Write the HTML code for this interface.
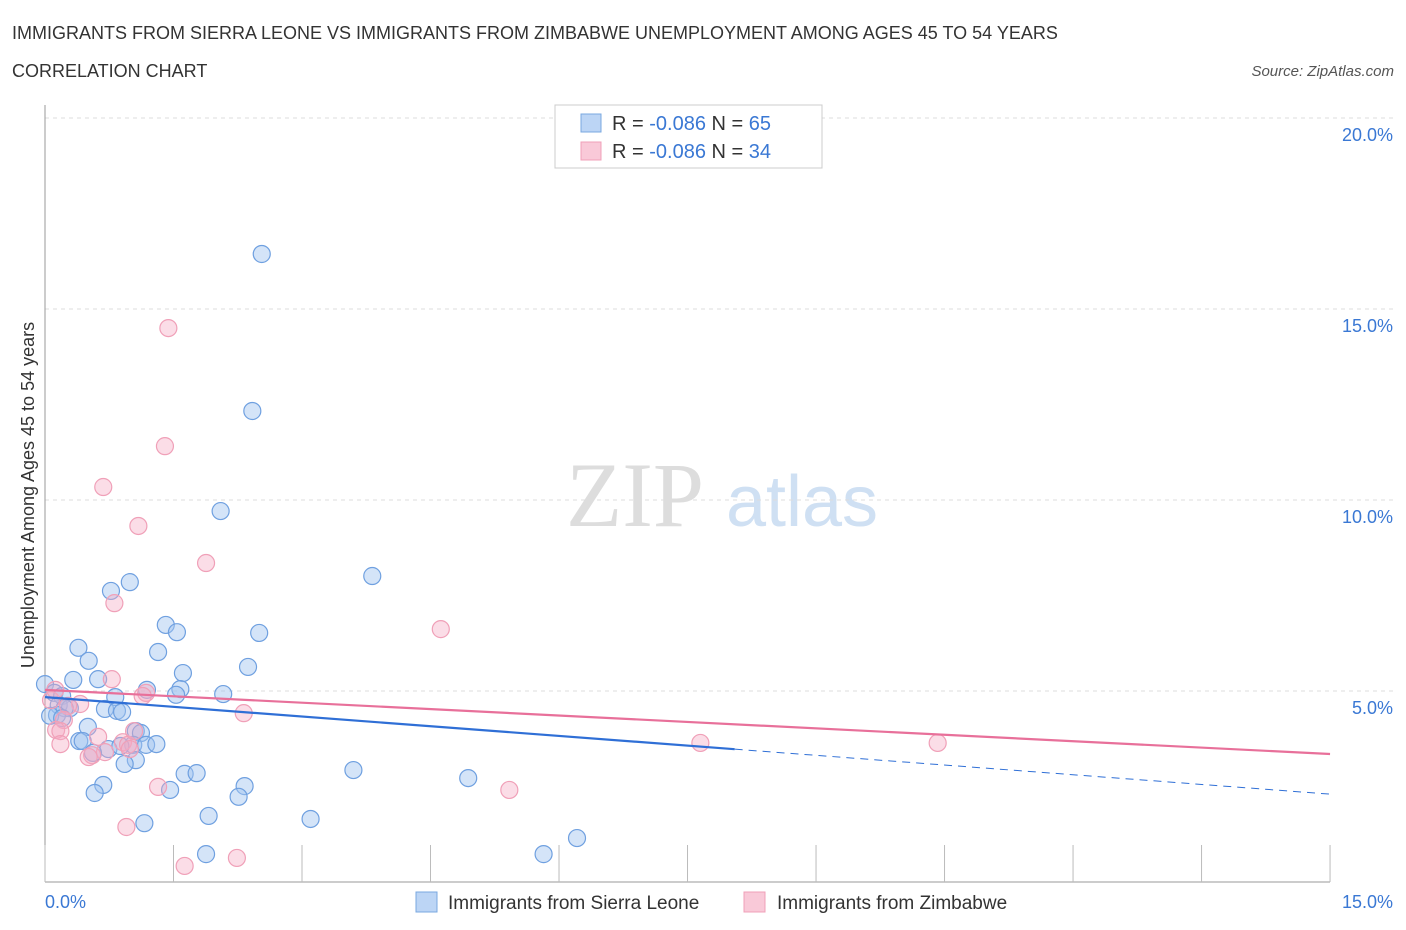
<!DOCTYPE html>
<html><head><meta charset="utf-8"><style>
body{margin:0;background:#fff;font-family:"Liberation Sans",sans-serif;}
svg{display:block}
</style></head><body>
<svg id="chart" width="1406" height="930">
<text x="12" y="39" font-size="18" fill="#333">IMMIGRANTS FROM SIERRA LEONE VS IMMIGRANTS FROM ZIMBABWE UNEMPLOYMENT AMONG AGES 45 TO 54 YEARS</text>
<text x="12" y="77" font-size="18" fill="#333">CORRELATION CHART</text>
<text x="1394" y="76" font-size="15" fill="#555" font-style="italic" text-anchor="end">Source: ZipAtlas.com</text>
<g>
<text x="635" y="526" font-size="92" fill="#ddd" font-family="Liberation Serif,serif" text-anchor="middle">ZIP</text>
<text x="802" y="526" font-size="72" fill="#cfe0f3" text-anchor="middle">atlas</text>
</g>
<g id="grid"></g>
<g id="axes"></g>
<g id="pts"></g>
<g id="trend"></g>
<text transform="translate(34,495) rotate(-90)" font-size="18" fill="#333" text-anchor="middle">Unemployment Among Ages 45 to 54 years</text>
<g>
<rect x="555" y="105" width="267" height="63" fill="#fff" stroke="#ccc"/>
<rect x="581" y="114" width="20" height="18" fill="#bcd5f5" stroke="#7aa8e0"/>
<rect x="581" y="142" width="20" height="18" fill="#f9c9d8" stroke="#f0a0b8"/>
<text x="612" y="130" font-size="20" fill="#333">R = <tspan fill="#3a78d4">-0.086</tspan>   N = <tspan fill="#3a78d4">65</tspan></text>
<text x="612" y="158" font-size="20" fill="#333">R = <tspan fill="#3a78d4">-0.086</tspan>   N = <tspan fill="#3a78d4">34</tspan></text>
</g>
<g>
<rect x="416" y="892" width="21" height="20" fill="#bcd5f5" stroke="#7aa8e0"/>
<text x="448" y="909" font-size="19" fill="#333">Immigrants from Sierra Leone</text>
<rect x="744" y="892" width="21" height="20" fill="#f9c9d8" stroke="#f0a0b8"/>
<text x="777" y="909" font-size="19" fill="#333">Immigrants from Zimbabwe</text>
</g>
</svg>
<script>
const blueX=[2.53,2.42,2.05,3.82,0.99,0.77,1.41,1.54,2.50,0.39,1.32,0.51,2.37,1.61,0.33,0.62,0.00,1.19,1.58,0.82,0.11,0.20,1.53,2.08,0.16,0.29,0.23,0.70,0.84,0.90,0.14,0.06,0.20,0.50,1.06,1.12,0.40,0.44,0.74,1.03,1.18,1.30,0.88,0.56,1.06,0.93,1.63,1.77,3.60,4.94,2.33,0.68,0.58,1.46,2.26,1.91,1.16,3.10,6.21,1.88,5.82];
const blueY=[16.44,12.33,9.71,8.01,7.85,7.62,6.73,6.54,6.52,6.13,6.02,5.79,5.63,5.47,5.29,5.31,5.18,5.03,5.05,4.84,4.95,4.87,4.90,4.92,4.63,4.55,4.55,4.53,4.48,4.45,4.37,4.35,4.29,4.06,3.95,3.90,3.69,3.69,3.48,3.59,3.59,3.61,3.56,3.38,3.19,3.09,2.83,2.85,2.93,2.72,2.51,2.54,2.33,2.41,2.23,1.73,1.54,1.65,1.15,0.73,0.73];
const pinkX=[1.44,1.40,0.68,1.09,1.88,0.81,4.62,0.78,1.18,1.14,0.41,0.27,0.22,2.32,0.13,0.18,0.62,0.91,0.97,0.18,0.99,0.70,0.55,0.51,7.65,10.42,1.32,5.42,0.95,1.63,2.24,0.07,0.12,1.04];
const pinkY=[14.50,11.41,10.34,9.32,8.35,7.30,6.62,5.31,4.95,4.87,4.66,4.61,4.24,4.42,3.98,3.95,3.80,3.66,3.59,3.61,3.48,3.40,3.32,3.27,3.64,3.64,2.49,2.41,1.44,0.42,0.63,4.76,5.03,3.95];
const yTicks=[5,10,15,20];
const yTickLabels=["5.0%","10.0%","15.0%","20.0%"];
const xTicks=[0,1.5,3,4.5,6,7.5,9,10.5,12,13.5,15];
const blueTrend=[4.84,2.30];
const pinkTrend=[5.03,3.35];
const blueSolidEnd=8.05;
const NS="http://www.w3.org/2000/svg";
const X=v=>45+v*85.67, Y=v=>882-v*38.2;
function mk(tag,attrs,parent){const e=document.createElementNS(NS,tag);for(const k in attrs)e.setAttribute(k,attrs[k]);document.getElementById(parent).appendChild(e);return e;}
yTicks.forEach((t,i)=>{
 const g=mk('line',{x1:45,x2:1394,y1:Y(t),y2:Y(t),stroke:'#ddd','stroke-dasharray':'4,4'},'grid');
 
 
 const l=mk('text',{x:1393,y:Y(t)+23,'font-size':18,fill:'#3a78d4','text-anchor':'end'},'grid');
 l.textContent=yTickLabels[i];
 
 
});
const ya=mk('line',{x1:45,x2:45,y1:105,y2:882,stroke:'#999'},'axes');


const xa=mk('line',{x1:45,x2:1330,y1:882,y2:882,stroke:'#999'},'axes');


xTicks.forEach(t=>{
 const tk=mk('line',{x1:X(t),x2:X(t),y1:845,y2:882,stroke:'#bbb'},'axes');
 
 
});
const x0=mk('text',{x:45,y:908,'font-size':18,fill:'#3a78d4'},'axes');x0.textContent='0.0%';


const x1=mk('text',{x:1393,y:908,'font-size':18,fill:'#3a78d4','text-anchor':'end'},'axes');x1.textContent='15.0%';


blueX.forEach((v,i)=>{
 const c=mk('circle',{cx:X(v),cy:Y(blueY[i]),r:8.5,fill:'rgba(160,196,240,0.45)',stroke:'#6fa0e0','stroke-width':1.2},'pts');
 
 
});
pinkX.forEach((v,i)=>{
 const c=mk('circle',{cx:X(v),cy:Y(pinkY[i]),r:8.5,fill:'rgba(245,170,195,0.4)',stroke:'#f0a0b8','stroke-width':1.2},'pts');
 
 
});
const by=x=>blueTrend[0]+(blueTrend[1]-blueTrend[0])*x/15;
const t1=mk('line',{x1:X(0),y1:Y(by(0)),x2:X(blueSolidEnd),y2:Y(by(blueSolidEnd)),stroke:'#2f6fd6','stroke-width':2.2},'trend');


const t2=mk('line',{x1:X(blueSolidEnd),y1:Y(by(blueSolidEnd)),x2:X(15),y2:Y(by(15)),stroke:'#2f6fd6','stroke-width':1,'stroke-dasharray':'8,6'},'trend');


const t3=mk('line',{x1:X(0),y1:Y(pinkTrend[0]),x2:X(15),y2:Y(pinkTrend[1]),stroke:'#e8709a','stroke-width':2.2},'trend');


</script>
</body></html>
